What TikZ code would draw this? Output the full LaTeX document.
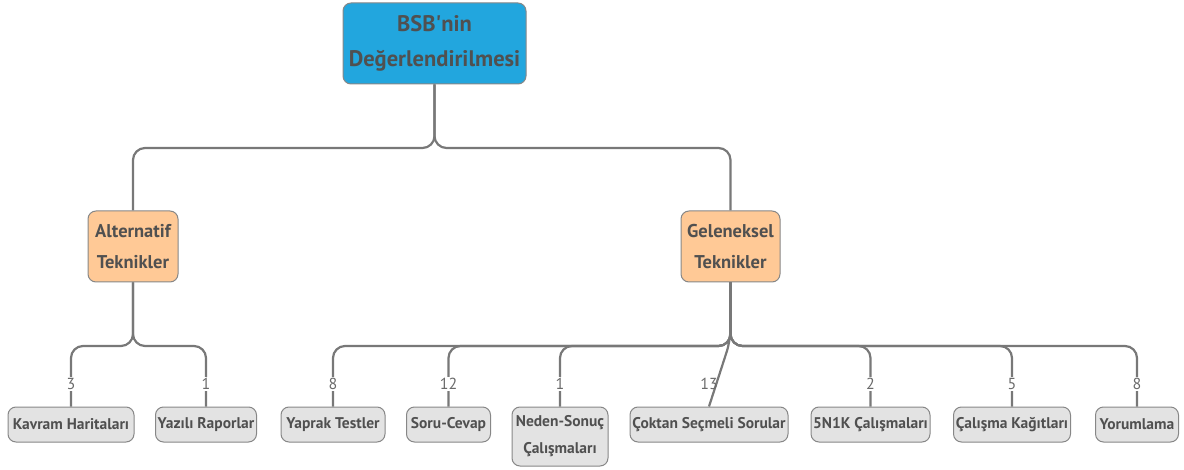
\documentclass[tikz,border=0pt]{standalone}
\usepackage{fontspec}
\setmainfont{PT Sans}
% same family without TeX ligatures, for a straight apostrophe
\newfontfamily\plainsans{PT Sans}
\usetikzlibrary{calc}
\definecolor{rootblue}{HTML}{22A6DE}
\definecolor{midorange}{HTML}{FFC996}
\definecolor{leafgray}{HTML}{E3E3E3}
\definecolor{boxline}{HTML}{878787}
\definecolor{wire}{HTML}{787878}
\definecolor{ink}{HTML}{505050}
\definecolor{numink}{HTML}{6A6A6A}
\begin{document}
\begin{tikzpicture}[x=1pt,y=-1pt,
  box/.style={draw=boxline,line width=1pt,rounded corners=8pt,align=center,
    text=ink,font=\bfseries,inner sep=1pt},
  rootbox/.style={box,fill=rootblue,font=\bfseries\fontsize{22.5}{35}\selectfont},
  midbox/.style={box,fill=midorange,font=\bfseries\fontsize{18.5}{31}\selectfont},
  leafbox/.style={box,fill=leafgray,minimum height=35pt,font=\bfseries\fontsize{15.5}{27}\selectfont},
  link/.style={draw=wire,line width=2.2pt,rounded corners=12pt},
  count/.style={fill=white,inner sep=1pt,text=numink,font=\fontsize{16}{16}\selectfont}]
\useasboundingbox (0,0) rectangle (1184,470);

% root and the two groups
\node[rootbox,minimum width=183pt,minimum height=81pt] (root) at (434.5,43.5) {BSB{\plainsans\bfseries '}nin\\Değerlendirilmesi};
\node[midbox,minimum width=90pt,minimum height=71pt] (alt) at (133,246.5) {Alternatif\\Teknikler};
\node[midbox,minimum width=99pt,minimum height=71pt] (gel) at (730.5,246.5) {Geleneksel\\Teknikler};

% leaves
\node[leafbox,minimum width=126pt] (kav) at (71,424.5) {Kavram Haritaları};
\node[leafbox,minimum width=101pt] (yaz) at (206,424.5) {Yazılı Raporlar};
\node[leafbox,minimum width=104pt] (yap) at (333,424.5) {Yaprak Testler};
\node[leafbox,minimum width=84pt] (sor) at (448.5,424.5) {Soru-Cevap};
\node[leafbox,minimum width=96pt,minimum height=59pt] (ned) at (560,436.5) {Neden-Sonuç\\Çalışmaları};
\node[leafbox,minimum width=158pt] (cok) at (709,424.5) {Çoktan Seçmeli Sorular};
\node[leafbox,minimum width=119pt] (bes) at (870.5,424.5) {5N1K Çalışmaları};
\node[leafbox,minimum width=117pt] (cal) at (1012,424.5) {Çalışma Kağıtları};
\node[leafbox,minimum width=83pt] (yor) at (1137,424.5) {Yorumlama};

% connectors from the root
\foreach \c in {alt,gel}
  \draw[link] (root.south) -- (root.south |- 0,148) -- (\c.north |- 0,148) -- (\c.north);

% connectors from the alternative techniques
\foreach \c/\n in {kav/3,yaz/1}{
  \draw[link] (alt.south) -- (alt.south |- 0,346) -- (\c.north |- 0,346) -- (\c.north);
  \node[count] at (\c.north |- 0,384) {\n};
}

% connectors from the traditional techniques
\foreach \c/\n in {yap/8,sor/12,ned/1,bes/2,cal/5,yor/8}{
  \draw[link] (gel.south) -- (gel.south |- 0,346) -- (\c.north |- 0,346) -- (\c.north);
  \node[count] at (\c.north |- 0,384) {\n};
}
\coordinate (gj) at (gel.south |- 0,340);
\draw[link] (gel.south) -- (gj) -- (cok.north);
\node[count,fill=none] at (709,384) {13};
\end{tikzpicture}
\end{document}
